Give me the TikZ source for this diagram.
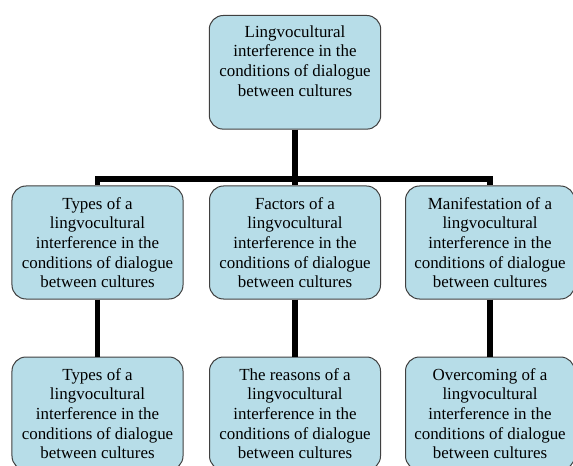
\documentclass[tikz,border=0pt]{standalone}
\usepackage{fontspec}
\setmainfont{Liberation Serif}
\usepackage{xcolor}
\definecolor{boxblue}{HTML}{B7DDE8}
\definecolor{boxline}{HTML}{404040}

\begin{document}
\begin{tikzpicture}[x=1bp,y=-1bp,
  box/.style={draw=boxline,line width=1bp,fill=boxblue,rounded corners=14bp,
    align=center,minimum width=171bp,minimum height=113bp,inner sep=4bp,
    font=\fontsize{17}{19.7}\selectfont},
  conn/.style={line width=5.5bp}]
\useasboundingbox (0,0) rectangle (573,466);
\clip (0,0) rectangle (573,466);
\node[box,anchor=north,minimum height=0pt,inner sep=10bp,text depth=23bp] (top) at (295,15)
  {Lingvocultural\\interference in the\\conditions of dialogue\\between cultures};
\node[box] (types) at (97.5,242.5)
  {Types of a\\lingvocultural\\interference in the\\conditions of dialogue\\between cultures};
\node[box] (factors) at (295,242.5)
  {Factors of a\\lingvocultural\\interference in the\\conditions of dialogue\\between cultures};
\node[box,minimum width=169bp] (manif) at (490,242.5)
  {Manifestation of a\\lingvocultural\\interference in the\\conditions of dialogue\\between cultures};
\node[box] (types2) at (97.5,413.5)
  {Types of a\\lingvocultural\\interference in the\\conditions of dialogue\\between cultures};
\node[box] (reasons) at (295,413.5)
  {The reasons of a\\lingvocultural\\interference in the\\conditions of dialogue\\between cultures};
\node[box,minimum width=169bp] (overc) at (490,413.5)
  {Overcoming of a\\lingvocultural\\interference in the\\conditions of dialogue\\between cultures};
\coordinate (bar) at (0,179);
\draw[conn] (top.south) -- (top.south |- bar);
\draw[conn] (types.north) -- (types.north |- bar) -- (manif.north |- bar) -- (manif.north);
\draw[conn] (factors.north |- bar) -- (factors.north);
\draw[conn] (types.south) -- (types2.north);
\draw[conn] (factors.south) -- (reasons.north);
\draw[conn] (manif.south) -- (overc.north);
\end{tikzpicture}
\end{document}
